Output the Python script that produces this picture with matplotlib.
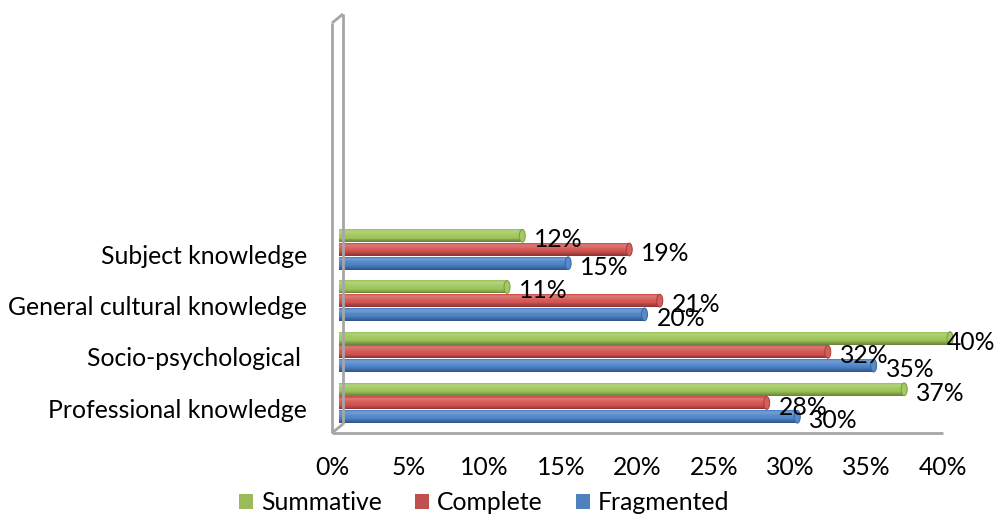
import numpy as np
import matplotlib
matplotlib.use("Agg")
import matplotlib.pyplot as plt
from matplotlib import transforms as mtrans
from matplotlib.patches import Ellipse, Patch
from matplotlib.lines import Line2D
import matplotlib.colors as mcolors

# ---------------- data ----------------
categories = ["Professional knowledge", "Socio-psychological ",
              "General cultural knowledge", "Subject knowledge"]
series_names = ["Summative", "Complete", "Fragmented"]
summative = [37, 40, 11, 12]
complete = [28, 32, 21, 19]
fragmented = [30, 35, 20, 15]
x_ticks = [0, 5, 10, 15, 20, 25, 30, 35, 40]
x_tick_labels = ["0%", "5%", "10%", "15%", "20%", "25%", "30%", "35%", "40%"]

# ---------------- style ----------------
W, H = 996, 515
DPI = 100
FAMILY = ["Lato", "DejaVu Sans"]
colors = {"Summative": "#9BBB59", "Complete": "#C0504D", "Fragmented": "#4F81BD"}
bar_colors = {"Summative": "#9CC457", "Complete": "#D0504D", "Fragmented": "#4A80C6"}
gray = "#A6A6A6"

plt.rcParams["font.family"] = FAMILY
fig = plt.figure(figsize=(W / DPI, H / DPI), dpi=DPI)
fig.patch.set_facecolor("white")

# fit font size to reference text width
renderer = fig.canvas.get_renderer()
probe = fig.text(0, 0, "General cultural knowledge", fontsize=17)
wpx = probe.get_window_extent(renderer).width
probe.remove()
FS = 17 * 298 / wpx
FS_PX = FS * DPI / 72

ax = fig.add_axes([332 / W, 1 - 433 / H, 611 / W, 418 / H])
ax.set_xlim(0, 40)
ax.set_ylim(-0.586, 7.583)
for s in ax.spines.values():
    s.set_visible(False)
ax.set_facecolor("none")

px = lambda p: p / DPI
bar_trans = ax.transData + mtrans.ScaledTranslation(px(7), 0, fig.dpi_scale_trans)

offsets = {"Summative": 0.268, "Complete": 0.0, "Fragmented": -0.268}
bar_h = 0.25
values = {"Summative": summative, "Complete": complete, "Fragmented": fragmented}


def shade(c, f):
    rgb = np.array(mcolors.to_rgb(c))
    if f >= 0:
        return tuple(rgb + (1 - rgb) * f)
    return tuple(rgb * (1 + f))


prof_t = [0.0, 0.15, 0.35, 0.6, 0.8, 0.92, 1.0]
prof_f = [-0.35, -0.2, 0.0, 0.08, 0.22, 0.15, -0.08]
NS = 14
y_pos = np.arange(len(categories))

for name in series_names:
    base = bar_colors[name]
    vals = values[name]
    yc = y_pos + offsets[name]
    for k in range(NS):
        t = (k + 0.5) / NS
        col = shade(base, float(np.interp(t, prof_t, prof_f)))
        ax.barh(yc - bar_h / 2 + k * bar_h / NS, vals, height=bar_h / NS * 1.15,
                left=0, align="edge", color=col, linewidth=0, transform=bar_trans,
                zorder=3, clip_on=False)
    for v, y in zip(vals, yc):
        e = Ellipse((v, y), 6 / 15.275, bar_h, facecolor=shade(base, 0.08),
                    edgecolor=shade(base, -0.22), linewidth=0.7,
                    transform=bar_trans, zorder=4, clip_on=False)
        ax.add_patch(e)
    lab_trans = bar_trans + mtrans.ScaledTranslation(px(12), px(-4), fig.dpi_scale_trans)
    for v, y in zip(vals, yc):
        t = ax.text(v, y, f"{v}%", transform=lab_trans, ha="left", va="center",
                    fontsize=FS, color="black", zorder=6)
        bb = t.get_window_extent(renderer)
        if bb.x1 > W - 1:
            t.set_transform(lab_trans + mtrans.ScaledTranslation(
                -px(bb.x1 - (W - 1)), 0, fig.dpi_scale_trans))

# ticks
ax.set_yticks(y_pos - 5 / 51.17)
ax.set_yticklabels(categories, fontsize=FS)
ax.set_xticks(x_ticks)
ax.set_xticklabels(x_tick_labels, fontsize=FS)
ax.tick_params(axis="y", length=0, pad=18)
ax.tick_params(axis="x", length=0, pad=24.5)
for lab in ax.get_xticklabels():
    lab.set_va("center")

# wall and floor (pixel coordinates of the 3D frame)
pix = mtrans.Affine2D().scale(1 / W, -1 / H).translate(0, 1) + fig.transFigure
frame = [
    ([332, 332], [23, 433]),
    ([343, 343], [14, 424]),
    ([332, 343], [23, 14]),
    ([332, 343], [433, 424]),
    ([332, 943], [433, 433]),
]
for xs, ys in frame:
    fig.add_artist(Line2D(xs, ys, transform=pix, color=gray, linewidth=2.0,
                          solid_capstyle="butt", zorder=1))

# legend
handles = [Patch(facecolor=colors[n], edgecolor="none", label=n) for n in series_names]
hl = 14 / FS_PX
leg = fig.legend(handles=handles, loc="center", bbox_to_anchor=(484 / W, 1 - 503 / H),
                 ncol=3, frameon=False, fontsize=FS, handlelength=hl, handleheight=hl,
                 handletextpad=8 / FS_PX, columnspacing=33 / FS_PX, borderpad=0,
                 borderaxespad=0)

fig.savefig("out.png", dpi=DPI)
